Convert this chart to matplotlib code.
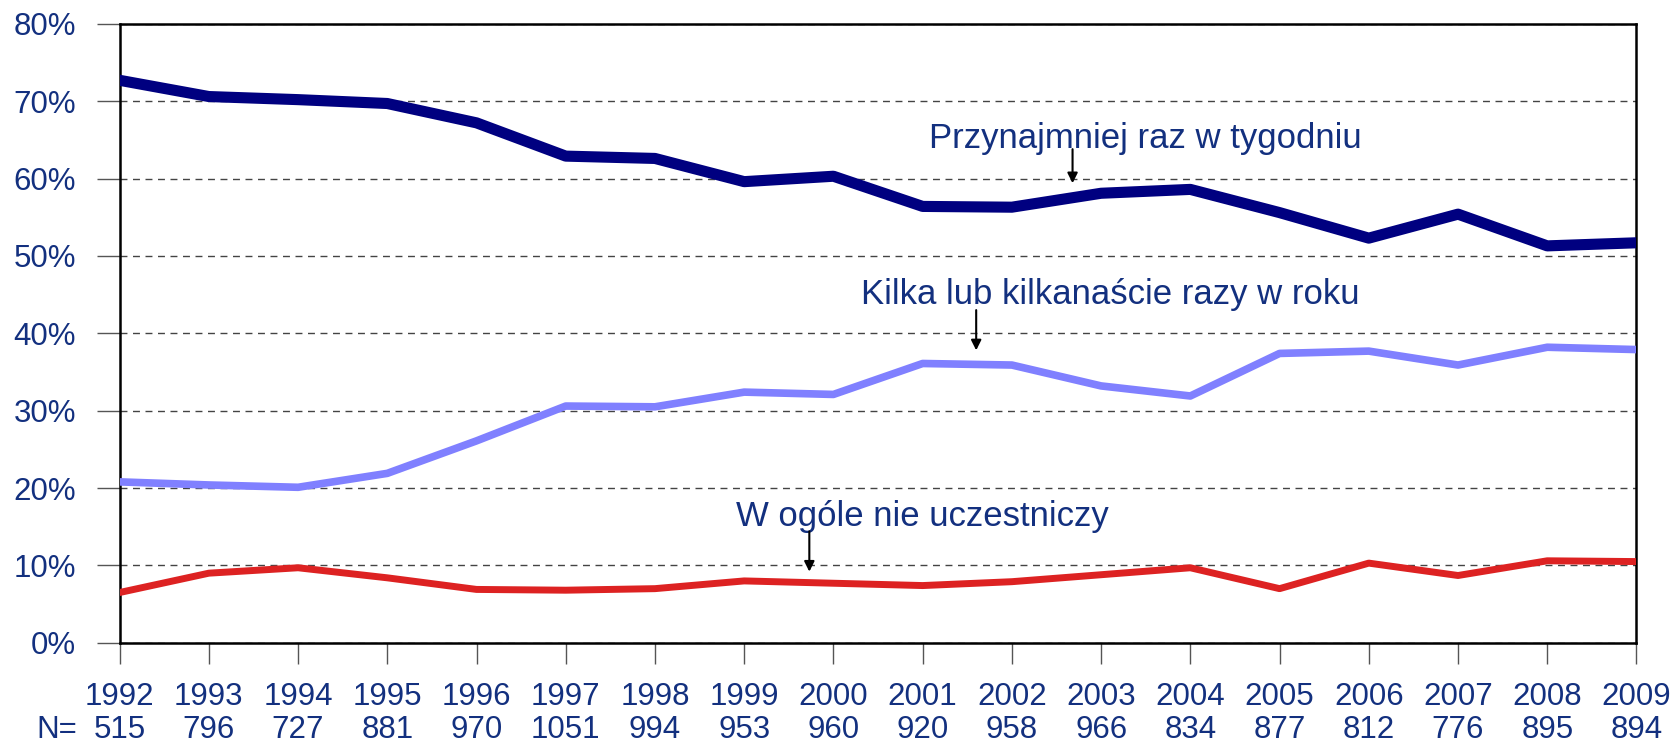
import matplotlib
matplotlib.use('Agg')
import matplotlib.pyplot as plt

plt.rcParams['font.family'] = ['Liberation Sans', 'DejaVu Sans']

years = list(range(1992, 2010))
n_counts = [515, 796, 727, 881, 970, 1051, 994, 953, 960, 920, 958, 966, 834, 877, 812, 776, 895, 894]

weekly = [72.7, 70.6, 70.2, 69.7, 67.2, 62.9, 62.6, 59.6, 60.3, 56.4, 56.3, 58.1, 58.6, 55.6, 52.3, 55.4, 51.3, 51.7]
yearly = [20.8, 20.4, 20.1, 21.9, 26.1, 30.6, 30.5, 32.4, 32.1, 36.1, 35.9, 33.2, 31.9, 37.4, 37.7, 35.9, 38.2, 37.9]
never = [6.5, 9.0, 9.7, 8.4, 6.9, 6.8, 7.0, 8.0, 7.7, 7.4, 7.9, 8.8, 9.7, 7.0, 10.3, 8.7, 10.6, 10.5]

label_weekly = 'Przynajmniej raz w tygodniu'
label_yearly = 'Kilka lub kilkanaście razy w roku'
label_never = 'W ogóle nie uczestniczy'

text_color = '#13307f'

fig = plt.figure(figsize=(16.75, 7.44), dpi=100)
ax = fig.add_axes([0.0714, 0.136, 0.9056, 0.832])

ax.plot(years, weekly, color='#000080', lw=8, solid_capstyle='round', zorder=3)
ax.plot(years, yearly, color='#8080ff', lw=5.5, solid_capstyle='round', zorder=3)
ax.plot(years, never, color='#dd2222', lw=5, solid_capstyle='round', zorder=3)

ax.set_xlim(1992, 2009)
ax.set_ylim(0, 80)
ax.set_yticks(range(0, 81, 10))
ax.set_yticklabels([f'{v}%' for v in range(0, 81, 10)])
ax.set_xticks(years)
ax.set_xticklabels([f'{y}\n{n}' for y, n in zip(years, n_counts)], linespacing=1.15)

ax.yaxis.grid(True, linestyle=(0, (5, 4)), color='#444444', lw=1)
ax.set_axisbelow(True)
for s in ax.spines.values():
    s.set_linewidth(1.8)
    s.set_color('black')

ax.tick_params(axis='y', length=16.5, width=1, color='#555555', pad=15,
               labelsize=22.5, labelcolor=text_color)
ax.tick_params(axis='x', length=15, width=1, color='#555555', pad=13,
               labelsize=22.5, labelcolor=text_color)

fig.text(0.034, 0.019, 'N=', fontsize=22.5, color=text_color, ha='center', va='center')

# annotations with small arrows
def label_arrow(text, tx, ty, ax_x, y0, y1):
    ax.text(tx, ty, text, fontsize=25, color=text_color, ha='center', va='center')
    ax.annotate('', xy=(ax_x, y1), xytext=(ax_x, y0),
                arrowprops=dict(arrowstyle='-|>', color='black', lw=1.5,
                                mutation_scale=15, shrinkA=0, shrinkB=0))

label_arrow(label_weekly, 2003.5, 65.2, 2002.68, 63.8, 59.4)
label_arrow(label_yearly, 2003.1, 45.0, 2001.6, 43.0, 37.8)
label_arrow(label_never, 2001.0, 16.3, 1999.73, 14.4, 9.2)

fig.savefig('out.png', dpi=100)
